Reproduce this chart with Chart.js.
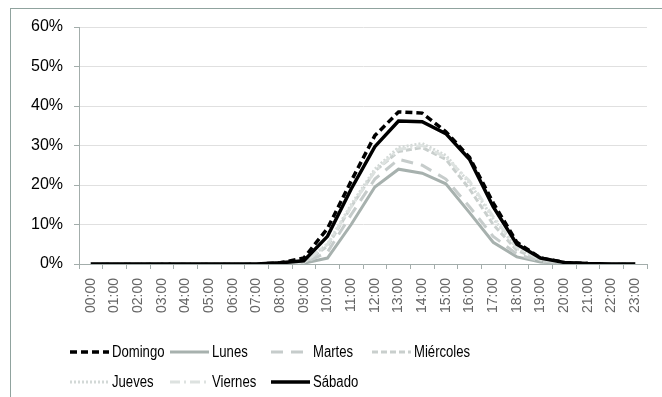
<!DOCTYPE html>
<html>
<head>
<meta charset="utf-8">
<script src="https://cdn.jsdelivr.net/npm/chart.js@4/dist/chart.umd.min.js"></script>
<style>
  html, body { margin: 0; padding: 0; background: #fff; }
  #wrap { position: relative; width: 662px; height: 397px; }
  #frame {
    position: absolute; left: 10px; top: 8px; right: 0; bottom: 0;
    border-left: 1px solid #90a39e; border-top: 1px solid #90a39e;
    pointer-events: none;
  }
</style>
</head>
<body>
<div id="wrap">
  <canvas id="hourChart"></canvas>
  <div id="frame"></div>
</div>
<script>
// Hourly share by weekday (%)
const hours = [
  "00:00", "01:00", "02:00", "03:00", "04:00", "05:00", "06:00", "07:00",
  "08:00", "09:00", "10:00", "11:00", "12:00", "13:00", "14:00", "15:00",
  "16:00", "17:00", "18:00", "19:00", "20:00", "21:00", "22:00", "23:00",
];
const domingo   = [0, 0, 0, 0, 0, 0, 0, 0, 0.3, 1.5, 9, 21, 32.5, 38.5, 38.2, 33.5, 27, 15.5, 5.5, 1.5, 0.4, 0.1, 0, 0];
const lunes     = [0, 0, 0, 0, 0, 0, 0, 0, 0, 0.2, 1.5, 10, 19.5, 24, 23, 20.3, 13, 5.5, 1.8, 0.5, 0.1, 0, 0, 0];
const martes    = [0, 0, 0, 0, 0, 0, 0, 0, 0, 0.2, 3, 12.5, 21.5, 26.5, 25, 21.5, 14.5, 7, 2.5, 0.7, 0.2, 0, 0, 0];
const miercoles = [0, 0, 0, 0, 0, 0, 0, 0, 0, 0.3, 4.5, 14.5, 23.5, 28.5, 29.5, 26.5, 19, 10, 3.5, 1, 0.3, 0, 0, 0];
const jueves    = [0, 0, 0, 0, 0, 0, 0, 0, 0, 0.4, 5, 15, 24, 29.5, 30.5, 27.5, 20.5, 11.5, 4, 1.2, 0.3, 0, 0, 0];
const viernes   = [0, 0, 0, 0, 0, 0, 0, 0, 0, 0.4, 5, 14.5, 23.5, 29, 30, 27, 21, 12, 4.2, 1.2, 0.3, 0, 0, 0];
const sabado    = [0, 0, 0, 0, 0, 0, 0, 0, 0.3, 0.8, 7, 19, 29.7, 36.2, 36, 33, 26.5, 14.5, 5, 1.5, 0.4, 0.1, 0, 0];
const dayNames  = ["Domingo", "Lunes", "Martes", "Miércoles", "Jueves", "Viernes", "Sábado"];
const yMax = 60;
const yStep = 10;

const seriesData = [domingo, lunes, martes, miercoles, jueves, viernes, sabado];
const seriesStyle = [
  { color: "#000000", dash: [7, 4], width: 3.5 },
  { color: "#a7b1ae", dash: [], width: 3 },
  { color: "#c6cccb", dash: [12, 8], width: 3 },
  { color: "#c9cfcd", dash: [6, 3], width: 3 },
  { color: "#d3d9d7", dash: [2, 2], width: 3 },
  { color: "#dde2e0", dash: [10, 4, 2, 4], width: 3 },
  { color: "#000000", dash: [], width: 3.5 },
];

// legend laid out in fixed columns like the spreadsheet export
const legendCols = [70, 170, 271, 372];
const legendRows = [352, 382];
const gridLegend = {
  id: "gridLegend",
  afterDraw(chart) {
    const ctx = chart.ctx;
    chart.data.datasets.forEach((ds, i) => {
      const x = legendCols[i % 4];
      const y = legendRows[Math.floor(i / 4)];
      ctx.save();
      ctx.strokeStyle = ds.borderColor;
      ctx.lineWidth = ds.borderWidth;
      ctx.setLineDash(ds.borderDash);
      ctx.beginPath();
      ctx.moveTo(x, y);
      ctx.lineTo(x + 39, y);
      ctx.stroke();
      // narrow look of the original legend font
      ctx.translate(x + 42, y + 1);
      ctx.scale(0.82, 1);
      ctx.font = "16px 'Liberation Sans', Arial, sans-serif";
      ctx.textBaseline = "middle";
      ctx.fillStyle = "#000";
      ctx.fillText(ds.label, 0, 0);
      ctx.restore();
    });
  },
};

const ctx = document.getElementById("hourChart").getContext("2d");
const hourChart = new Chart(ctx, {
  type: "line",
  data: {
    labels: hours,
    datasets: seriesData.map((values, i) => ({
      label: dayNames[i],
      data: values,
      borderColor: seriesStyle[i].color,
      borderDash: seriesStyle[i].dash,
      borderWidth: seriesStyle[i].width,
      pointRadius: 0,
      tension: 0,
      fill: false,
      order: seriesData.length - i,
    })),
  },
  options: {
    responsive: true,
    maintainAspectRatio: false,
    animation: false,
    layout: { padding: { top: 27, right: 15, bottom: 0, left: 0 } },
    plugins: {
      legend: { display: false },
      tooltip: { enabled: false },
    },
    scales: {
      x: {
        offset: true,
        grid: {
          display: true,
          offset: true,
          drawOnChartArea: false,
          tickLength: 5,
          tickColor: "#a3adab",
        },
        border: { color: "#a3adab", width: 1 },
        ticks: {
          autoSkip: false,
          maxRotation: 90,
          minRotation: 90,
          padding: 9,
          color: "#666",
          font: { family: "'Liberation Sans', Arial, sans-serif", size: 14 },
        },
        afterFit: (scale) => { scale.height = 133; },
      },
      y: {
        min: 0,
        max: yMax,
        grid: {
          color: "#e0e0e0",
          borderDash: [4, 4],
          tickLength: 5,
          tickColor: "#a3adab",
          tickBorderDash: [],
        },
        border: { color: "#a3adab", width: 1, dash: [] },
        ticks: {
          stepSize: yStep,
          padding: 11,
          color: "#000",
          font: { family: "'Liberation Sans', Arial, sans-serif", size: 16 },
          callback: (value) => value + "%",
        },
        afterFit: (scale) => { scale.width = 79; },
      },
    },
  },
  plugins: [gridLegend],
});
</script>
</body>
</html>
